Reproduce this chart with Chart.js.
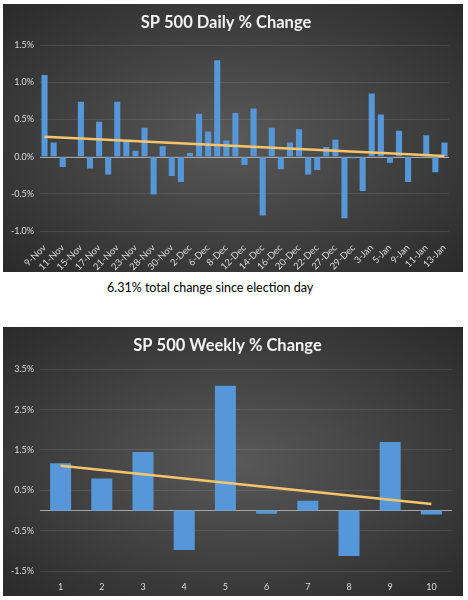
<!DOCTYPE html>
<html>
<head>
<meta charset="utf-8">
<script src="https://cdn.jsdelivr.net/npm/chart.js@4/dist/chart.umd.min.js"></script>
<style>
  body { margin: 0; background: #fff; width: 468px; height: 600px; position: relative; overflow: hidden; }
  .panel {
    position: absolute; left: 3px; width: 460px;
    background: radial-gradient(ellipse farthest-corner at 50% 50%, #595959 0%, #2a2a2a 100%);
  }
  #dailyBox { top: 4px; height: 268px; }
  #weeklyBox { top: 327px; height: 269px; }
  #caption {
    position: absolute; left: 107px; top: 280px;
    font: 12.5px Lato, "Open Sans", sans-serif; color: #000;
  }
</style>
</head>
<body>
<div class="panel" id="dailyBox"><canvas id="dailyChart"></canvas></div>
<div id="caption">6.31% total change since election day</div>
<div class="panel" id="weeklyBox"><canvas id="weeklyChart"></canvas></div>
<script>
// ---- daily data ----
const dayLabels = ['9-Nov','10-Nov','11-Nov','14-Nov','15-Nov','16-Nov','17-Nov','18-Nov','21-Nov','22-Nov',
  '23-Nov','25-Nov','28-Nov','29-Nov','30-Nov','1-Dec','2-Dec','5-Dec','6-Dec','7-Dec',
  '8-Dec','9-Dec','12-Dec','13-Dec','14-Dec','15-Dec','16-Dec','19-Dec','20-Dec','21-Dec',
  '22-Dec','23-Dec','27-Dec','28-Dec','29-Dec','30-Dec','3-Jan','4-Jan','5-Jan','6-Jan',
  '9-Jan','10-Jan','11-Jan','12-Jan','13-Jan'];
const dayChange = [1.10, 0.19, -0.14, -0.01, 0.74, -0.16, 0.47, -0.24, 0.74, 0.21,
  0.08, 0.39, -0.51, 0.14, -0.26, -0.34, 0.05, 0.58, 0.34, 1.30,
  0.22, 0.59, -0.11, 0.65, -0.79, 0.39, -0.17, 0.19, 0.37, -0.24,
  -0.18, 0.13, 0.23, -0.83, -0.02, -0.46, 0.85, 0.57, -0.08, 0.35,
  -0.34, 0.00, 0.29, -0.21, 0.19];
const dayTrend = [0.27, 0.01];   // trendline at first and last day

// ---- weekly data ----
const weekLabels = ['1','2','3','4','5','6','7','8','9','10'];
const weekChange = [1.17, 0.79, 1.45, -0.98, 3.09, -0.08, 0.24, -1.13, 1.70, -0.10];
const weekTrend = [1.11, 0.16];

const FONT = 'Lato, "Open Sans", sans-serif';
Chart.defaults.font.family = FONT;
Chart.defaults.color = '#d9d9d9';

const BAR = '#5597d9';
const TREND = '#f7c46c';
const GRID = 'rgba(255,255,255,0.09)';

// zero axis line (weekly chart has no 0 tick)
const zeroLine = {
  id: 'zeroLine',
  beforeDatasetsDraw(chart) {
    const { ctx, chartArea, scales } = chart;
    const y = Math.round(scales.y.getPixelForValue(0)) + 0.5;
    ctx.save();
    ctx.strokeStyle = '#a6a6a6';
    ctx.lineWidth = 1;
    ctx.beginPath();
    ctx.moveTo(chartArea.left, y);
    ctx.lineTo(chartArea.right, y);
    ctx.stroke();
    ctx.restore();
  }
};

function pct(v) { return v.toFixed(1) + '%'; }

function makeChart(id, cfg) {
  return new Chart(document.getElementById(id), {
    type: 'bar',
    data: {
      labels: cfg.labels,
      datasets: [{
        type: 'line',
        data: [
          { x: cfg.labels[0], y: cfg.trend[0] },
          { x: cfg.labels[cfg.labels.length - 1], y: cfg.trend[1] }
        ],
        borderColor: TREND,
        borderWidth: 2.5,
        pointRadius: 0,
        order: 0
      }, {
        data: cfg.values,
        backgroundColor: BAR,
        barPercentage: cfg.barPct,
        categoryPercentage: 1,
        order: 1
      }]
    },
    options: {
      responsive: true,
      maintainAspectRatio: false,
      animation: false,
      layout: { padding: { left: 0, right: cfg.padRight, top: 0, bottom: 0 } },
      plugins: {
        legend: { display: false },
        tooltip: { enabled: false },
        title: {
          display: true,
          text: cfg.title,
          color: '#f2f2f2',
          font: { size: 16.5, weight: 'bold' },
          padding: { top: 9, bottom: cfg.titleGap }
        }
      },
      scales: {
        x: {
          grid: { display: false },
          border: { display: false },
          ticks: cfg.xTicks,
          afterFit: s => { s.height = cfg.xHeight; }
        },
        y: {
          min: cfg.min, max: cfg.max,
          grid: { color: GRID, drawTicks: false },
          border: { display: false },
          ticks: { stepSize: cfg.step, padding: 6, font: { size: 9 }, callback: pct },
          afterFit: s => { s.width = 37; }
        }
      }
    },
    plugins: [zeroLine]
  });
}

makeChart('dailyChart', {
  labels: dayLabels, values: dayChange, trend: dayTrend,
  title: 'SP 500 Daily % Change',
  min: -1.0, max: 1.5, step: 0.5,
  barPct: 0.67, padRight: 14, titleGap: 12.5, xHeight: 41,
  xTicks: {
    autoSkip: false, minRotation: 45, maxRotation: 45, padding: 3,
    font: { size: 9.5 },
    callback: function (v, i) { return i % 2 === 0 ? this.getLabelForValue(v) : ''; }
  }
});

makeChart('weeklyChart', {
  labels: weekLabels, values: weekChange, trend: weekTrend,
  title: 'SP 500 Weekly % Change',
  min: -1.5, max: 3.5, step: 1,
  barPct: 0.51, padRight: 11, titleGap: 13.5, xHeight: 25,
  xTicks: { padding: 3, font: { size: 9 } }
});
</script>
</body>
</html>
